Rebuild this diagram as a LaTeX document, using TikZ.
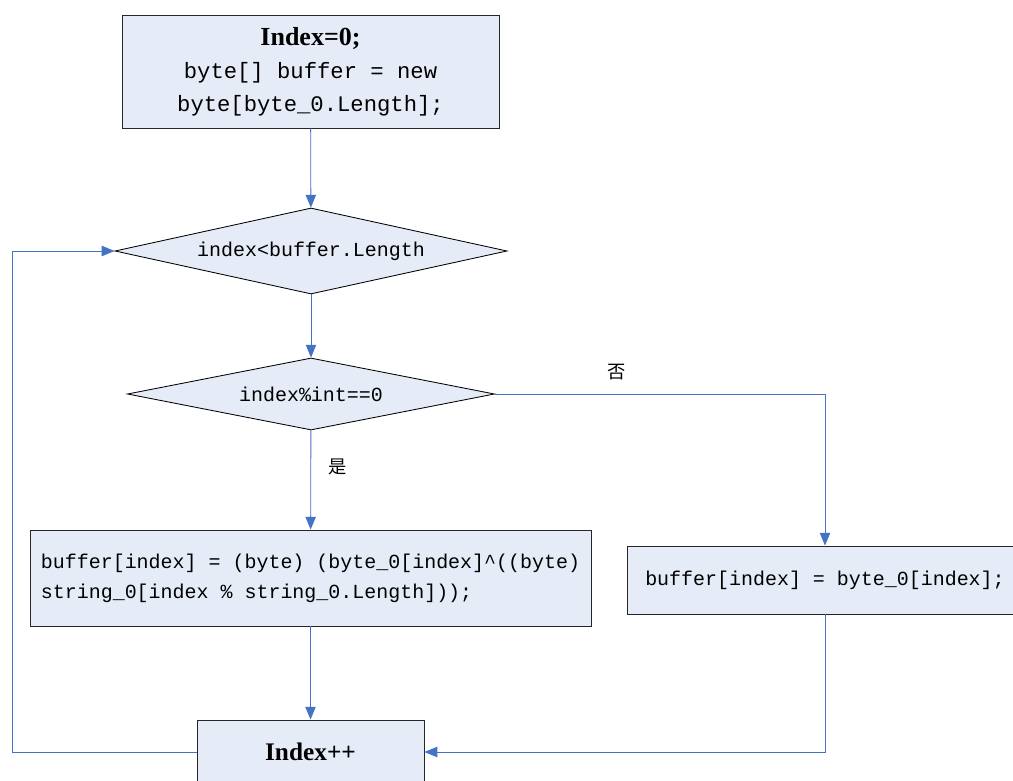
\documentclass[tikz,border=0pt]{standalone}
\usepackage{fontspec}
\setmainfont{Liberation Serif}
\setmonofont{Liberation Mono}
\newfontfamily\cjkfont{Noto Sans CJK SC}
\usetikzlibrary{shapes.geometric, arrows.meta, positioning}
\definecolor{boxfill}{RGB}{230,236,247}
\definecolor{linkblue}{RGB}{68,114,196}

\begin{document}
\begin{tikzpicture}[
    x=0.025cm, y=-0.025cm,
    procbox/.style={draw=black!85, line width=0.6pt, fill=boxfill, inner sep=0pt},
    decision/.style={diamond, draw=black, line width=0.6pt, fill=boxfill, inner sep=0pt,
                     font=\ttfamily\fontsize{14.2}{17}\selectfont},
    flow/.style={draw=linkblue, line width=0.6pt, -{Triangle[length=0.32cm, width=0.26cm]}},
    branchlabel/.style={font=\cjkfont\fontsize{13}{15}\selectfont, inner sep=0pt}
]
\clip (0,0) rectangle (1013,781);
\node[procbox, minimum width=9.425cm, minimum height=2.825cm, align=center,
      font=\ttfamily\fontsize{15.8}{23.4}\selectfont] (init) at (310.5,71.5)
      {{\rmfamily\bfseries\fontsize{18.5}{23.4}\selectfont Index=0;}\\
       byte[] buffer = new\\ byte[byte\_0.Length];};
\node[decision, aspect=4.56, minimum width=9.8cm, minimum height=2.15cm] (loop) at (311,251)
      {index<buffer.Length};
\node[decision, aspect=5.1, minimum width=9.175cm, minimum height=1.8cm] (check) at (311,394)
      {index\%int==0};
\node[procbox, minimum width=14.025cm, minimum height=2.4cm,
      align=left, font=\ttfamily\fontsize{14.2}{21.3}\selectfont] (xorbox) at (310.5,578)
      {buffer[index] = (byte) (byte\_0[index]\textasciicircum((byte)\\
       string\_0[index \% string\_0.Length]));};
\node[procbox, minimum width=9.9cm, minimum height=1.7cm,
      font=\ttfamily\fontsize{14.2}{17}\selectfont] (copybox) at (825,580)
      {buffer[index] = byte\_0[index];};
\node[procbox, minimum width=5.675cm, minimum height=1.6cm,
      font=\bfseries\fontsize{18}{22}\selectfont] (inc) at (310.5,752) {Index++};
\node[branchlabel] (nolabel) at (617,372) {否};
\node[branchlabel] (yeslabel) at (338,467) {是};
\coordinate (back) at (12,251);

\draw[flow] (init) -- (loop);
\draw[flow] (loop) -- (check);
\draw[flow] (check) -- (xorbox);
\draw[flow] (xorbox) -- (inc);
\draw[flow] (check.east) -| (copybox.north);
\draw[flow] (copybox.south) |- (inc.east);
\draw[flow] (inc.west) -| (back) -- (loop.west);
\end{tikzpicture}
\end{document}
